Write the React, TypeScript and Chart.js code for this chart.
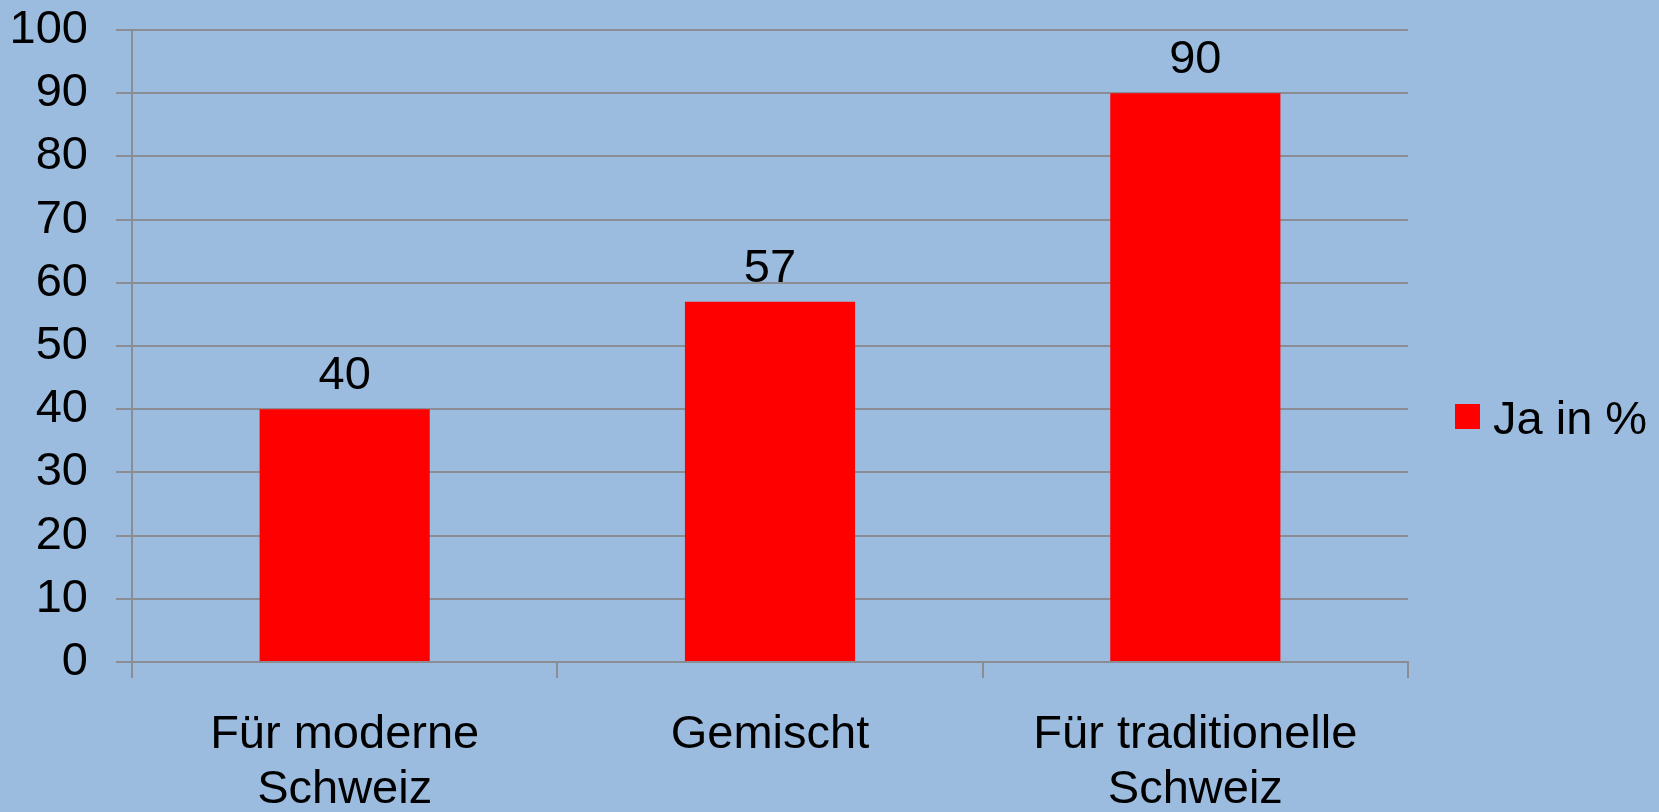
import React, { useEffect, useRef } from "react";
import { Chart, registerables } from "chart.js";

Chart.register(...registerables);

const categories: string[][] = [["Für moderne", "Schweiz"], ["Gemischt"], ["Für traditionelle", "Schweiz"]];
const seriesLabel = "Ja in %";
const values: number[] = [40, 57, 90];
const yMin = 0;
const yMax = 100;
const yStep = 10;

const FONT = "'Liberation Sans', Arial, sans-serif";
const FS = 47;
const BG = "#9CBCDF";
const GRID = "#8A8E94";
const RED = "#FF0000";

const valueLabelPlugin = {
  id: "valueLabels",
  afterDatasetsDraw(chart: any) {
    const ctx = chart.ctx;
    const meta = chart.getDatasetMeta(0);
    ctx.save();
    ctx.font = `${FS}px ${FONT}`;
    ctx.fillStyle = "#000";
    ctx.textAlign = "center";
    ctx.textBaseline = "alphabetic";
    meta.data.forEach((bar: any, i: number) => {
      ctx.fillText(String(chart.data.datasets[0].data[i]), bar.x, bar.y - 20);
    });
    ctx.restore();
  },
};

const legendPlugin = {
  id: "customLegend",
  afterDraw(chart: any) {
    const ctx = chart.ctx;
    const area = chart.chartArea;
    const x = area.right + 47;
    const cy = chart.height / 2 + 10.5;
    ctx.save();
    ctx.fillStyle = RED;
    ctx.fillRect(x, cy - 12.5, 25, 25);
    ctx.font = `${FS}px ${FONT}`;
    ctx.fillStyle = "#000";
    ctx.textAlign = "left";
    ctx.textBaseline = "alphabetic";
    ctx.fillText(chart.data.datasets[0].label, x + 38, cy + 17);
    ctx.restore();
  },
};

export default function App() {
  const ref = useRef<HTMLCanvasElement | null>(null);
  useEffect(() => {
    document.body.style.margin = "0";
    document.body.style.background = BG;
    if (!ref.current) return;
    const chart = new Chart(ref.current, {
      type: "bar",
      data: {
        labels: categories,
        datasets: [
          {
            label: seriesLabel,
            data: values,
            backgroundColor: RED,
            borderWidth: 0,
            barPercentage: 0.4,
            categoryPercentage: 1,
          },
        ],
      },
      options: {
        animation: false,
        responsive: false,
        maintainAspectRatio: false,
        layout: { padding: { left: 0, top: 30, right: 251, bottom: 0 } },
        plugins: {
          legend: { display: false },
          tooltip: { enabled: false },
        },
        scales: {
          x: {
            offset: true,
            afterFit(scale: any) {
              scale.height = 150;
              scale.paddingLeft = 0;
              scale.paddingRight = 0;
            },
            grid: {
              offset: true,
              drawOnChartArea: false,
              drawTicks: true,
              tickLength: 16,
              color: GRID,
              lineWidth: 2,
            },
            border: { display: true, color: GRID, width: 2 },
            ticks: {
              color: "#000",
              font: { family: FONT, size: FS, lineHeight: 1.16 },
              padding: 30,
              maxRotation: 0,
              autoSkip: false,
            },
          },
          y: {
            min: yMin,
            max: yMax,
            afterFit(scale: any) {
              scale.width = 132;
              scale.paddingTop = 0;
              scale.paddingBottom = 0;
            },
            grid: {
              color: GRID,
              lineWidth: 2,
              drawTicks: true,
              tickLength: 16,
            },
            border: { display: true, color: GRID, width: 2 },
            ticks: {
              stepSize: yStep,
              color: "#000",
              font: { family: FONT, size: FS, lineHeight: 1.2 },
              padding: 28,
            },
          },
        },
      },
      plugins: [valueLabelPlugin, legendPlugin],
    });
    return () => chart.destroy();
  }, []);
  return (
    <div style={{ width: 1659, height: 812, background: BG, position: "relative" }}>
      <canvas ref={ref} width={1659} height={812} style={{ display: "block", width: 1659, height: 812 }} />
    </div>
  );
}
